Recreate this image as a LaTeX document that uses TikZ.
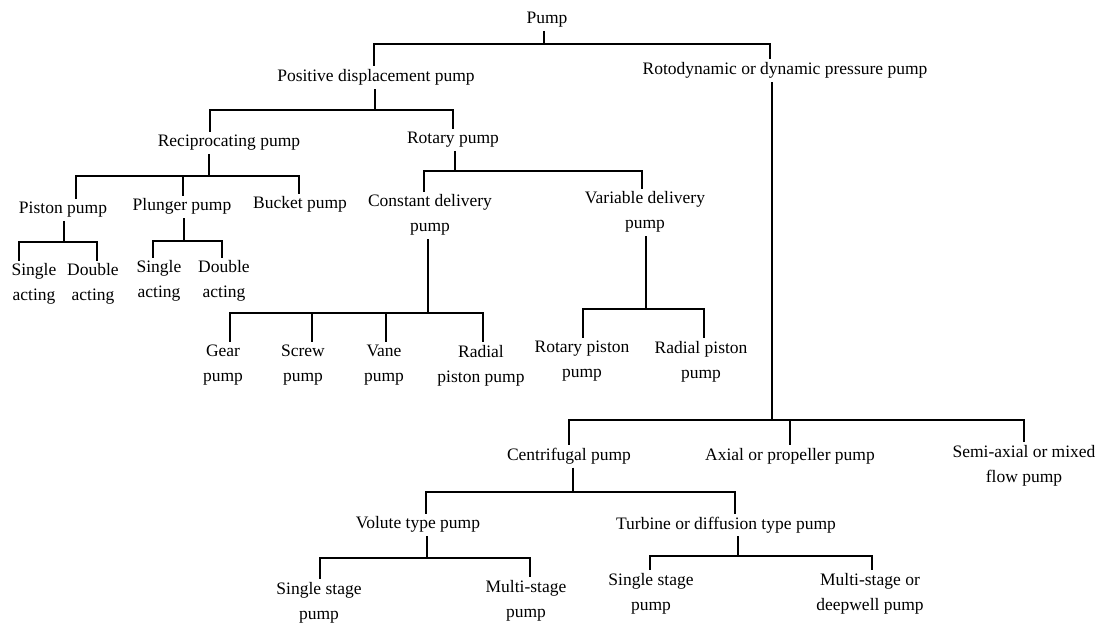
\documentclass[tikz,border=0pt]{standalone}
\usepackage{fontspec}
\setmainfont{Liberation Serif}
\newcommand\lblstrut{\rule[-4pt]{0pt}{16pt}}
\begin{document}
\begin{tikzpicture}[x=1pt,y=-1pt,
  conn/.style={line width=1.8pt},
  lbl/.style={anchor=north, align=center, inner xsep=1pt, inner ysep=3pt,
    font=\fontsize{17.5}{25}\selectfont,
    execute at begin node=\lblstrut, execute at end node=\lblstrut}]
\fill[white] (0,0) rectangle (1101,626);
\useasboundingbox (0,0) rectangle (1101,626);

% nodes
\node[lbl] (pump)    at (547,8.5)   {Pump};
\node[lbl] (pd)      at (376,66.5)  {Positive displacement pump};
\node[lbl] (roto)    at (785,59.5)  {Rotodynamic or dynamic pressure pump};
\node[lbl] (recip)   at (229,131.5) {Reciprocating pump};
\node[lbl] (rotary)  at (453,128.5) {Rotary pump};
\node[lbl] (piston)  at (63,198.5)  {Piston pump};
\node[lbl] (plunger) at (182,195.5) {Plunger pump};
\node[lbl] (bucket)  at (300,193.5) {Bucket pump};
\node[lbl] (const)   at (430,191.5) {Constant delivery\\pump};
\node[lbl] (var)     at (645,188.5) {Variable delivery\\pump};
\node[lbl] (sa1)     at (34,260.5)  {Single\\acting};
\node[lbl] (da1)     at (93,260.5)  {Double\\acting};
\node[lbl] (sa2)     at (159,257.5) {Single\\acting};
\node[lbl] (da2)     at (224,257.5) {Double\\acting};
\node[lbl] (gear)    at (223,342)   {Gear\\pump};
\node[lbl] (screw)   at (303,342)   {Screw\\pump};
\node[lbl] (vane)    at (384,342)   {Vane\\pump};
\node[lbl] (radial1) at (481,342)   {Radial\\piston pump};
\node[lbl] (rotpist) at (582,338)   {Rotary piston\\pump};
\node[lbl] (radial2) at (701,338)   {Radial piston\\pump};
\node[lbl] (centri)  at (569,445)   {Centrifugal pump};
\node[lbl] (axial)   at (790,445)   {Axial or propeller pump};
\node[lbl] (semi)    at (1024,442)  {Semi-axial or mixed\\flow pump};
\node[lbl] (volute)  at (418,513.5) {Volute type pump};
\node[lbl] (turbine) at (726,513.5) {Turbine or diffusion type pump};
\node[lbl] (ss1)     at (319,579)   {Single stage\\pump};
\node[lbl] (ms1)     at (526,577)   {Multi-stage\\pump};
\node[lbl] (ss2)     at (651,570)   {Single stage\\pump};
\node[lbl] (ms2)     at (870,570)   {Multi-stage or\\deepwell pump};

% junctions
\coordinate (j0)  at (544,44);
\coordinate (j1)  at (375,110);
\coordinate (j2)  at (209,176);
\coordinate (j3)  at (455,171);
\coordinate (j4)  at (64,242);
\coordinate (j5)  at (184,241);
\coordinate (j6)  at (428,313);
\coordinate (j7)  at (646,309);
\coordinate (j8)  at (772,420);
\coordinate (j9)  at (573,492);
\coordinate (j10) at (427,558);
\coordinate (j11) at (738,556);

% connectors
\draw[conn] (j0 |- pump.south) -- (j0);
\draw[conn] (j0) -| ([xshift=-2pt]pd.north);
\draw[conn] (j0) -| ([xshift=-15pt]roto.north);

\draw[conn] (j1 |- pd.south) -- (j1);
\draw[conn] (j1) -| ([xshift=-19pt]recip.north);
\draw[conn] (j1) -| (rotary.north);

\draw[conn] (j2 |- recip.south) -- (j2);
\draw[conn] (j2) -| ([xshift=13pt]piston.north);
\draw[conn] (j2) -| ([xshift=1pt]plunger.north);
\draw[conn] (j2) -| ([xshift=-1pt]bucket.north);

\draw[conn] (j3 |- rotary.south) -- (j3);
\draw[conn] (j3) -| ([xshift=-6pt]const.north);
\draw[conn] (j3) -| ([xshift=-3pt]var.north);

\draw[conn] (j4 |- piston.south) -- (j4);
\draw[conn] (j4) -| ([xshift=-15pt]sa1.north);
\draw[conn] (j4) -| ([xshift=4pt]da1.north);

\draw[conn] (j5 |- plunger.south) -- (j5);
\draw[conn] (j5) -| ([xshift=-6pt]sa2.north);
\draw[conn] (j5) -| ([xshift=-2pt]da2.north);

\draw[conn] (j6 |- const.south) -- (j6);
\draw[conn] (j6) -| ([xshift=7pt]gear.north);
\draw[conn] (j6) -| ([xshift=9pt]screw.north);
\draw[conn] (j6) -| ([xshift=2pt]vane.north);
\draw[conn] (j6) -| ([xshift=2pt]radial1.north);

\draw[conn] (j7 |- var.south) -- (j7);
\draw[conn] (j7) -| ([xshift=1pt]rotpist.north);
\draw[conn] (j7) -| ([xshift=3pt]radial2.north);

\draw[conn] (j8 |- roto.south) -- (j8);
\draw[conn] (j8) -| (centri.north);
\draw[conn] (j8) -| (axial.north);
\draw[conn] (j8) -| (semi.north);

\draw[conn] (j9 |- centri.south) -- (j9);
\draw[conn] (j9) -| ([xshift=8pt]volute.north);
\draw[conn] (j9) -| ([xshift=9pt]turbine.north);

\draw[conn] (j10 |- volute.south) -- (j10);
\draw[conn] (j10) -| ([xshift=1pt]ss1.north);
\draw[conn] (j10) -| ([xshift=4pt]ms1.north);

\draw[conn] (j11 |- turbine.south) -- (j11);
\draw[conn] (j11) -| ([xshift=-1pt]ss2.north);
\draw[conn] (j11) -| ([xshift=2pt]ms2.north);
\end{tikzpicture}
\end{document}
